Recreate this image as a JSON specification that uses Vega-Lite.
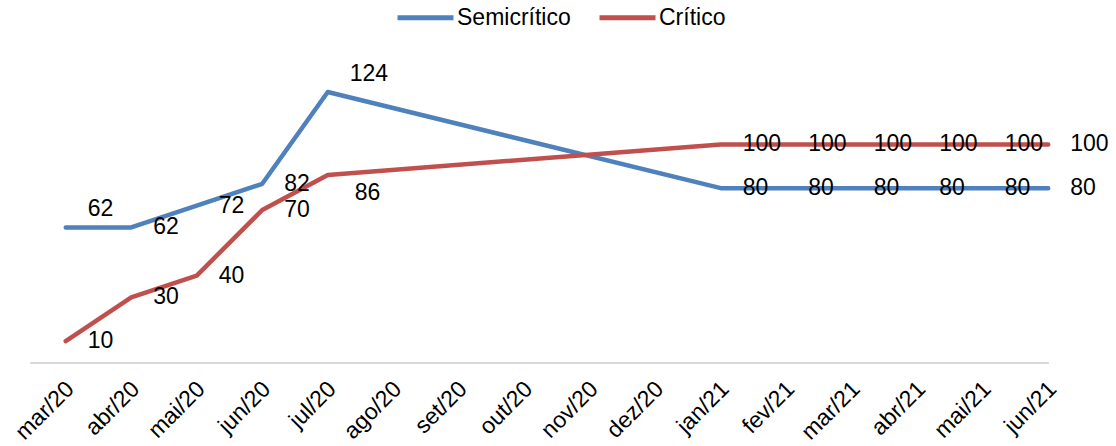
{
  "$schema": "https://vega.github.io/schema/vega-lite/v6.json",
  "width": 1048,
  "height": 306,
  "autosize": {"type": "none"},
  "padding": {"left": 33, "top": 57, "right": 35, "bottom": 83},
  "background": "white",
  "config": {
    "view": {"stroke": null},
    "font": "Liberation Sans",
    "text": {"font": "Liberation Sans"}
  },
  "data": {
    "values": [
      {"mes": "mar/20", "serie": "Semicrítico", "valor": 62},
      {"mes": "abr/20", "serie": "Semicrítico", "valor": 62},
      {"mes": "mai/20", "serie": "Semicrítico", "valor": 72},
      {"mes": "jun/20", "serie": "Semicrítico", "valor": 82},
      {"mes": "jul/20", "serie": "Semicrítico", "valor": 124},
      {"mes": "jan/21", "serie": "Semicrítico", "valor": 80},
      {"mes": "fev/21", "serie": "Semicrítico", "valor": 80},
      {"mes": "mar/21", "serie": "Semicrítico", "valor": 80},
      {"mes": "abr/21", "serie": "Semicrítico", "valor": 80},
      {"mes": "mai/21", "serie": "Semicrítico", "valor": 80},
      {"mes": "jun/21", "serie": "Semicrítico", "valor": 80},
      {"mes": "mar/20", "serie": "Crítico", "valor": 10},
      {"mes": "abr/20", "serie": "Crítico", "valor": 30},
      {"mes": "mai/20", "serie": "Crítico", "valor": 40},
      {"mes": "jun/20", "serie": "Crítico", "valor": 70},
      {"mes": "jul/20", "serie": "Crítico", "valor": 86},
      {"mes": "jan/21", "serie": "Crítico", "valor": 100},
      {"mes": "fev/21", "serie": "Crítico", "valor": 100},
      {"mes": "mar/21", "serie": "Crítico", "valor": 100},
      {"mes": "abr/21", "serie": "Crítico", "valor": 100},
      {"mes": "mai/21", "serie": "Crítico", "valor": 100},
      {"mes": "jun/21", "serie": "Crítico", "valor": 100}
    ]
  },
  "encoding": {
    "x": {
      "field": "mes",
      "type": "ordinal",
      "sort": null,
      "scale": {
        "type": "point",
        "padding": 0.5,
        "domain": ["mar/20", "abr/20", "mai/20", "jun/20", "jul/20", "ago/20", "set/20", "out/20", "nov/20", "dez/20", "jan/21", "fev/21", "mar/21", "abr/21", "mai/21", "jun/21"]
      },
      "axis": {
        "title": null,
        "labelAngle": -45,
        "labelAlign": "right",
        "labelBaseline": "middle",
        "labelFontSize": 23,
        "labelFont": "Liberation Sans",
        "labelColor": "#000000",
        "labelPadding": 22,
        "labelOffset": 4,
        "tickSize": 0,
        "ticks": false,
        "domain": false,
        "grid": false
      }
    },
    "y": {
      "field": "valor",
      "type": "quantitative",
      "scale": {"domain": [0, 140], "nice": false, "zero": true},
      "axis": null
    }
  },
  "layer": [
    {
      "mark": {"type": "rule", "color": "#d9d9d9", "strokeWidth": 2, "xOffset": -35},
      "encoding": {
        "x": {"datum": "mar/20", "type": "ordinal"},
        "x2": {"datum": "jun/21"},
        "y": {"datum": 0, "type": "quantitative", "axis": null}
      }
    },
    {
      "mark": {"type": "line", "strokeWidth": 4.5, "strokeCap": "round", "strokeJoin": "round"},
      "encoding": {
        "color": {
          "field": "serie",
          "type": "nominal",
          "sort": null,
          "scale": {"domain": ["Semicrítico", "Crítico"], "range": ["#4F81BD", "#C0504D"]},
          "legend": {
            "title": null,
            "orient": "none",
            "legendX": 362,
            "legendY": -70,
            "direction": "horizontal",
            "symbolType": "stroke",
            "symbolStrokeWidth": 5,
            "symbolSize": 3136,
            "labelFontSize": 23,
            "labelFont": "Liberation Sans",
            "labelColor": "#000000",
            "labelOffset": 1,
            "columnPadding": 18,
            "padding": 0,
            "symbolOffset": 0
          }
        }
      }
    },
    {
      "transform": [
        {"filter": "!((datum.serie === 'Semicrítico' && (datum.mes === 'mar/20' || datum.mes === 'jul/20')) || (datum.serie === 'Crítico' && datum.mes === 'jul/20'))"}
      ],
      "mark": {"type": "text", "align": "left", "baseline": "middle", "dx": 22, "fontSize": 23, "color": "#000000"},
      "encoding": {"text": {"field": "valor", "type": "quantitative"}}
    },
    {
      "transform": [
        {"filter": "datum.serie === 'Semicrítico' && (datum.mes === 'mar/20' || datum.mes === 'jul/20')"}
      ],
      "mark": {"type": "text", "align": "left", "baseline": "middle", "dx": 22, "dy": -18, "fontSize": 23, "color": "#000000"},
      "encoding": {"text": {"field": "valor", "type": "quantitative"}}
    },
    {
      "transform": [
        {"filter": "datum.serie === 'Crítico' && datum.mes === 'jul/20'"}
      ],
      "mark": {"type": "text", "align": "left", "baseline": "middle", "dx": 27, "dy": 18, "fontSize": 23, "color": "#000000"},
      "encoding": {"text": {"field": "valor", "type": "quantitative"}}
    }
  ]
}
